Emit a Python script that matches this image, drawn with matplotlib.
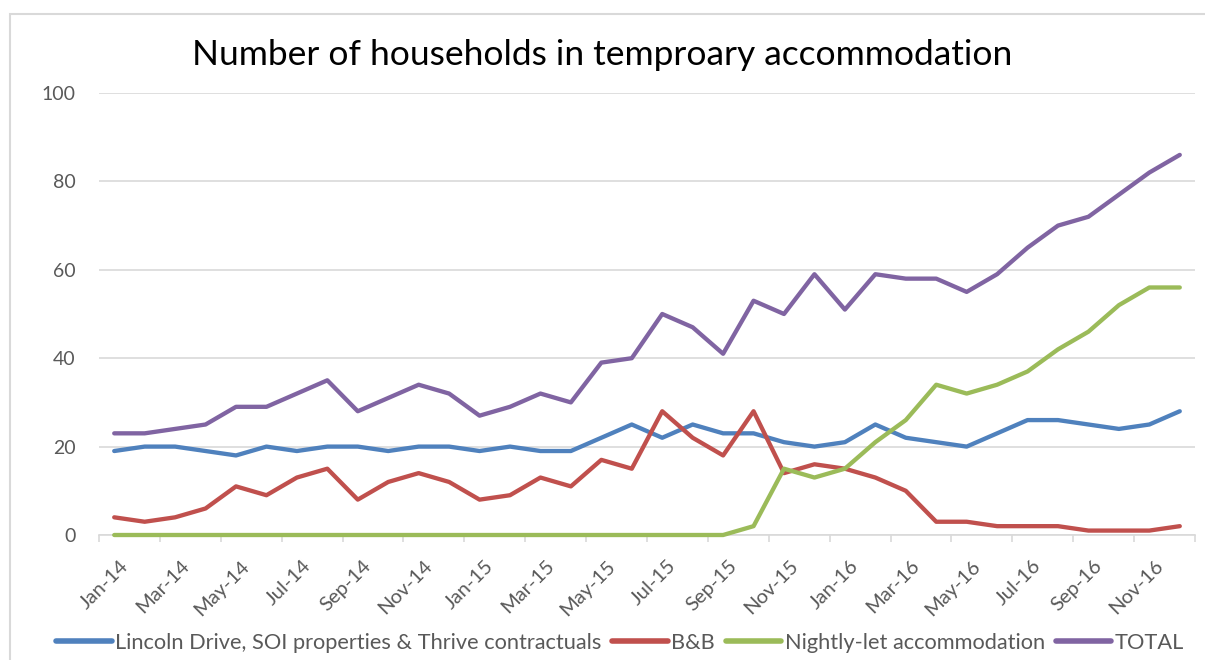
import matplotlib.pyplot as plt
import matplotlib.transforms as mtransforms
from matplotlib.patches import Rectangle
from matplotlib.ticker import FixedLocator

plt.rcParams['font.family'] = ['Lato', 'DejaVu Sans']

months = ["Jan-14", "Feb-14", "Mar-14", "Apr-14", "May-14", "Jun-14", "Jul-14", "Aug-14",
          "Sep-14", "Oct-14", "Nov-14", "Dec-14", "Jan-15", "Feb-15", "Mar-15", "Apr-15",
          "May-15", "Jun-15", "Jul-15", "Aug-15", "Sep-15", "Oct-15", "Nov-15", "Dec-15",
          "Jan-16", "Feb-16", "Mar-16", "Apr-16", "May-16", "Jun-16", "Jul-16", "Aug-16",
          "Sep-16", "Oct-16", "Nov-16", "Dec-16"]

lincoln = [19, 20, 20, 19, 18, 20, 19, 20, 20, 19, 20, 20, 19, 20, 19, 19, 22, 25,
           22, 25, 23, 23, 21, 20, 21, 25, 22, 21, 20, 23, 26, 26, 25, 24, 25, 28]
bnb = [4, 3, 4, 6, 11, 9, 13, 15, 8, 12, 14, 12, 8, 9, 13, 11, 17, 15,
       28, 22, 18, 28, 14, 16, 15, 13, 10, 3, 3, 2, 2, 2, 1, 1, 1, 2]
nightly = [0, 0, 0, 0, 0, 0, 0, 0, 0, 0, 0, 0, 0, 0, 0, 0, 0, 0,
           0, 0, 0, 2, 15, 13, 15, 21, 26, 34, 32, 34, 37, 42, 46, 52, 56, 56]
total = [23, 23, 24, 25, 29, 29, 32, 35, 28, 31, 34, 32, 27, 29, 32, 30, 39, 40,
         50, 47, 41, 53, 50, 59, 51, 59, 58, 58, 55, 59, 65, 70, 72, 77, 82, 86]

series = [
    ("Lincoln Drive, SOI properties & Thrive contractuals", lincoln, "#4F81BD"),
    ("B&B", bnb, "#C0504D"),
    ("Nightly-let accommodation", nightly, "#9BBB59"),
    ("TOTAL", total, "#8064A2"),
]

W, H = 1205, 660
fig = plt.figure(figsize=(W / 100, H / 100), dpi=100)
ax = fig.add_axes([99 / W, 1 - 535 / H, (1195 - 99) / W, (535 - 93) / H])

x = list(range(len(months)))
for name, vals, col in series:
    ax.plot(x, vals, color=col, lw=3.1, label=name, solid_capstyle='round',
            solid_joinstyle='round', clip_on=False, zorder=3)

ax.set_xlim(-0.5, len(months) - 0.5)
ax.set_ylim(0, 100)
ax.set_yticks(range(0, 101, 20))
ax.yaxis.grid(True, color="#D9D9D9", lw=1.2)
ax.set_axisbelow(True)
for s in ["left", "right", "top"]:
    ax.spines[s].set_visible(False)
ax.spines["bottom"].set_color("#D9D9D9")
ax.spines["bottom"].set_linewidth(1.2)

ax.set_xticks(x[::2])
ax.set_xticklabels(months[::2], rotation=45, ha="right", rotation_mode="anchor")
ax.xaxis.set_minor_locator(FixedLocator([i - 0.5 for i in range(0, 37, 2)]))
ax.tick_params(axis="x", which="major", length=0, pad=16, labelsize=14.5, labelcolor="#595959")
ax.tick_params(axis="x", which="minor", length=5, width=1.2, color="#D9D9D9")
ax.tick_params(axis="y", length=0, pad=17, labelsize=14, labelcolor="#595959")
shift = mtransforms.ScaledTranslation(5 / 100, 0, fig.dpi_scale_trans)
for lab in ax.get_xticklabels():
    lab.set_transform(lab.get_transform() + shift)

fig.text(0.5, 1 - 55 / H, "Number of households in temproary accommodation",
         ha="center", va="center", fontsize=25.5, color="black")

fig.legend(loc="center", bbox_to_anchor=(620 / W, 1 - 643 / H), ncol=4, frameon=False,
           fontsize=15.7, handlelength=2.55, handletextpad=0.15, columnspacing=0.5,
           labelcolor="#595959")
for line in fig.legends[0].get_lines():
    line.set_linewidth(4)

fig.patches.append(Rectangle((10 / W, -0.1), 1.2, 1.1 - 14 / H, transform=fig.transFigure,
                             fill=False, edgecolor="#D9D9D9", lw=1.5))

fig.savefig("out.png", dpi=100)
